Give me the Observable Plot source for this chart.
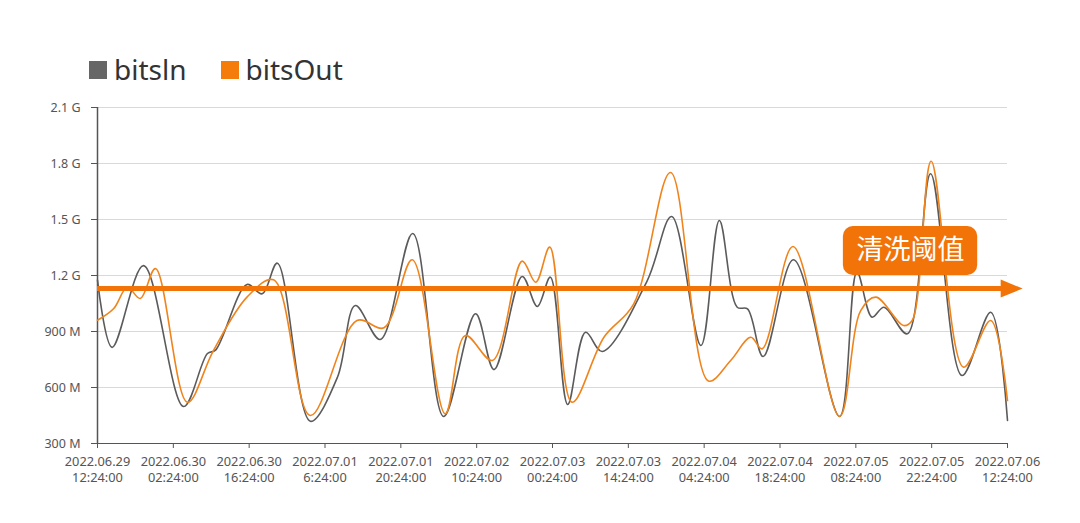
<!DOCTYPE html>
<html>
<head>
<meta charset="utf-8">
<script src="https://cdn.jsdelivr.net/npm/d3@7"></script>
<script src="https://cdn.jsdelivr.net/npm/@observablehq/plot@0.6"></script>
<style>
  html, body { margin: 0; padding: 0; background: #fff; }
  #wrap { position: relative; width: 1080px; height: 523px; font-family: "Noto Sans", sans-serif; }
  #legend { position: absolute; left: 89px; top: 50px; display: flex; align-items: center; font-size: 28px; color: #333; }
  .item { display: flex; align-items: center; margin-right: 34px; }
  .sw { width: 18px; height: 18px; margin-right: 7px; margin-top: 2px; }
</style>
</head>
<body>
<div id="wrap"><div id="legend"></div></div>
<script>
// ---- data (hours after 2022.06.29 12:24:00, values in M) ----
const seriesNames = ["bitsln", "bitsOut"];
const seriesColors = ["#5b5b5b", "#f0841c"];
const legendColors = ["#666666", "#f57c0a"];

const inHours = [0, 2.7, 8.5, 15.9, 20.3, 21.8, 27.6, 30.4, 33.2, 39.3, 44.3, 47.6, 52.2, 58.2, 63.9, 69.8, 73.2, 78.4, 81.2, 83.6, 86.8, 90.1, 93.2, 101.5, 106, 111.4, 114.8, 118.1, 120, 122.9, 128.5, 137, 140.2, 143, 145.2, 149.5, 153.8, 159.6, 164.9, 168];
const inValues = [1175, 815, 1253, 498, 782, 800, 1152, 1102, 1266, 419, 655, 1039, 857, 1425, 445, 995, 696, 1195, 1034, 1191, 509, 896, 793, 1173, 1516, 825, 1495, 1030, 1021, 766, 1284, 445, 1218, 977, 1030, 888, 1745, 664, 1003, 423];

const outHours = [0, 3.0, 5.5, 7.9, 10.7, 16.6, 21.4, 27.6, 32.5, 39.3, 47.9, 52.9, 58.1, 64.2, 67.9, 72.9, 78.4, 80.9, 83.5, 87.6, 93.5, 99, 105.8, 112.8, 116.9, 120.6, 122.7, 128.4, 137, 140.9, 143.7, 148.8, 150.4, 153.9, 159.9, 164.9, 168];
const outValues = [960, 1023, 1137, 1077, 1237, 521, 798, 1084, 1177, 450, 959, 920, 1284, 459, 879, 745, 1277, 1164, 1352, 521, 869, 1048, 1752, 635, 745, 869, 807, 1355, 445, 1012, 1084, 932, 959, 1812, 709, 959, 530];

const yTicks = [300, 600, 900, 1200, 1500, 1800, 2100];
const xTickHours = [0, 14, 28, 42, 56, 70, 84, 98, 112, 126, 140, 154, 168];
const xTickLabels = [
  "2022.06.29\n12:24:00", "2022.06.30\n02:24:00", "2022.06.30\n16:24:00", "2022.07.01\n6:24:00",
  "2022.07.01\n20:24:00", "2022.07.02\n10:24:00", "2022.07.03\n00:24:00", "2022.07.03\n14:24:00",
  "2022.07.04\n04:24:00", "2022.07.04\n18:24:00", "2022.07.05\n08:24:00", "2022.07.05\n22:24:00",
  "2022.07.06\n12:24:00"
];

const thresholdValue = 1130;
const thresholdEndHours = 170.8;
const labelText = "清洗阈值";
const labelHours = [137.7, 162.5, 150.1];   // box left, right, text center
const labelValues = [1200, 1462, 1334];      // box bottom, top, text center

// ---- build ----
const start = Date.UTC(2022, 5, 29, 12, 24);
const toDate = h => new Date(start + h * 3600e3);

const rows = [];
inHours.forEach((h, i) => rows.push({t: toDate(h), v: inValues[i], s: seriesNames[0]}));
outHours.forEach((h, i) => rows.push({t: toDate(h), v: outValues[i], s: seriesNames[1]}));

const tickDates = xTickHours.map(toDate);
const labelByTime = new Map(tickDates.map((d, i) => [+d, xTickLabels[i]]));
const fmtY = v => v >= 1000 ? (v / 1000).toFixed(1) + " G" : v + " M";

const thrRow = [{y: thresholdValue, x1: toDate(0), x2: toDate(thresholdEndHours - 3.6)}];
const headRow = [{y: thresholdValue, x: toDate(thresholdEndHours)}];
const boxRow = [{x1: toDate(labelHours[0]), x2: toDate(labelHours[1]), y1: labelValues[0], y2: labelValues[1]}];
const textRow = [{x: toDate(labelHours[2]), y: labelValues[2], t: labelText}];

const chart = Plot.plot({
  width: 1080,
  height: 523,
  marginLeft: 97,
  marginRight: 73,
  marginTop: 107,
  marginBottom: 80,
  style: {fontFamily: "Noto Sans, sans-serif", background: "#fff", overflow: "visible"},
  x: {type: "utc", domain: [toDate(0), toDate(168)]},
  y: {domain: [300, 2100]},
  color: {domain: seriesNames, range: seriesColors},
  marks: [
    Plot.gridY(yTicks, {stroke: "#d9d9d9", strokeOpacity: 1}),
    Plot.axisY({ticks: yTicks, tickFormat: fmtY, tickSize: 6, tickPadding: 11, fontSize: 12.5, stroke: "#555", color: "#555", label: null}),
    Plot.axisX({ticks: tickDates, tickFormat: d => labelByTime.get(+d), tickSize: 5, tickPadding: 6, fontSize: 12.8, lineHeight: 1.25, stroke: "#555", color: "#555", label: null}),
    Plot.ruleY([300], {stroke: "#555", strokeWidth: 1.2}),
    Plot.ruleX([toDate(0)], {stroke: "#555", strokeWidth: 1.5}),
    Plot.line(rows, {x: "t", y: "v", z: "s", stroke: "s", strokeWidth: 1.6, curve: "catmull-rom"}),
    Plot.ruleY(thrRow, {y: "y", x1: "x1", x2: "x2", stroke: "#f27308", strokeWidth: 5}),
    Plot.dot(headRow, {
      x: "x", y: "y", r: 0, fill: "#f27308",
      render(index, scales, values, dims, context, next) {
        const g = next(index, scales, values, dims, context);
        const x = scales.x(headRow[0].x), y = scales.y(headRow[0].y);
        const p = document.createElementNS("http://www.w3.org/2000/svg", "path");
        p.setAttribute("d", `M${x - 22},${y - 9}L${x},${y}L${x - 22},${y + 9}Z`);
        p.setAttribute("fill", "#f27308");
        g.appendChild(p);
        return g;
      }
    }),
    Plot.rect(boxRow, {x1: "x1", x2: "x2", y1: "y1", y2: "y2", fill: "#f27308", rx: 10}),
    Plot.text(textRow, {x: "x", y: "y", text: "t", fill: "#fff", fontSize: 27, fontFamily: "Noto Sans CJK SC, sans-serif"})
  ]
});

const wrap = document.getElementById("wrap");
wrap.insertBefore(chart, wrap.firstChild);
chart.style.position = "absolute";
chart.style.left = "0";
chart.style.top = "0";

const legend = document.getElementById("legend");
seriesNames.forEach((n, i) => {
  const it = document.createElement("div");
  it.className = "item";
  it.innerHTML = `<span class="sw" style="background:${legendColors[i]}"></span><span>${n}</span>`;
  legend.appendChild(it);
});
</script>
</body>
</html>
